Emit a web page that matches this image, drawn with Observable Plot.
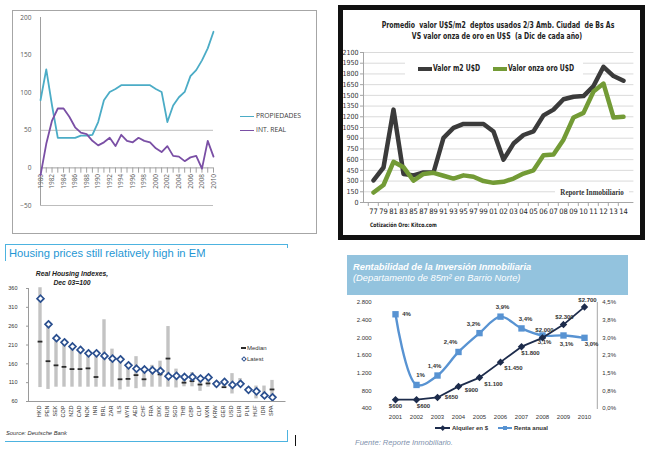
<!DOCTYPE html>
<html><head><meta charset="utf-8">
<script src="https://cdn.jsdelivr.net/npm/d3@7"></script>
<script src="https://cdn.jsdelivr.net/npm/@observablehq/plot@0.6"></script>
<style>
html,body{margin:0;padding:0;background:#fff;overflow:hidden;}
#root{position:relative;width:651px;height:454px;overflow:hidden;font-family:"Liberation Sans",Arial,sans-serif;}
.abs{position:absolute;}
svg.abs{display:block;overflow:visible;}
</style></head><body><div id="root"></div>
<script>
// ---------- Chart 1: PROPIEDADES vs INT. REAL ----------
const years1 = [1980,1981,1982,1983,1984,1985,1986,1987,1988,1989,1990,1991,1992,1993,1994,1995,1996,1997,1998,1999,2000,2001,2002,2003,2004,2005,2006,2007,2008,2009,2010];
const prop1 = [90,131,83,40,40,40,40,43,43,44,61,90,101,105,110,110,110,110,110,110,105,101,61,83,94,101,122,130,143,159,181];
const real1 = [-10,32,63,79,79,68,54,47,45,36,30,34,40,29,44,36,34,40,36,34,26,21,29,16,15,9,14,16,-1,36,15];
const yearLabels1 = [1980,1982,1984,1986,1988,1990,1992,1994,1996,1998,2000,2002,2004,2006,2008,2010];
const yTicks1 = [-50,0,50,100,150,200];
const series1 = ["PROPIEDADES","INT. REAL"];

// ---------- Chart 2: valor m2 vs onza oro ----------
const labels2 = ["77","79","81","83","85","87","89","91","93","95","97","99","01","02","03","04","05","06","07","08","09","10","11","12","13","14"];
const m2 = [310,490,1300,400,380,420,420,905,1045,1100,1100,1100,995,600,825,945,995,1220,1300,1445,1480,1490,1630,1900,1770,1705];
const oro = [140,245,570,495,305,400,415,375,335,380,360,300,275,290,335,405,450,660,672,880,1190,1255,1555,1665,1190,1200];
const yTicks2 = [0,150,300,450,600,750,900,1050,1200,1350,1500,1650,1800,1950,2100];
const series2 = ["Valor m2 U$D","Valor onza oro U$D"];

// ---------- Chart 3: Real Housing Indexes ----------
const cats3 = ["HKD","PEN","SEK","COP","NZD","CAD","NOK","INR","BRL","ZAR","ILS","MYR","AED","CHF","FRA","DKK","RUB","SGD","THB","GBP","CLP","MXN","KRW","GER","USD","EUR","PLN","HUF","IDR","SPA"];
const min3 = [97,92,98,98,98,98,98,98,98,98,91,98,94,98,98,98,98,96,99,99,87,98,97,98,80,99,85,67,70,67];
const max3 = [362,262,228,217,206,197,188,188,277,199,172,156,179,145,156,167,259,146,125,137,121,124,110,112,134,121,97,101,101,116];
const median3 = [219,167,156,152,146,146,148,125,183,170,119,120,130,119,142,132,174,128,110,114,105,108,107,98,104,107,91,87,76,92];
const latest3 = [333,265,228,217,206,197,188,188,181,174,172,156,147,145,143,141,127,128,125,125,121,124,107,112,104,107,91,87,76,71];
const yTicks3 = [60,110,160,210,260,310,360];

// ---------- Chart 4: Rentabilidad ----------
const years4 = ["2001","2002","2003","2004","2005","2006","2007","2008","2009","2010"];
const alquiler4 = [600,600,650,900,1100,1450,1800,2000,2300,2700];
const renta4 = [4.0,1.0,1.4,2.4,3.2,3.9,3.4,3.1,3.1,3.0];
const rentaLabels4 = ["4%","1%","1,4%","2,4%","3,2%","3,9%","3,4%","3,1%","3,1%","3,0%"];
const leftTicks4 = [400,800,1200,1600,2000,2400,2800];
const rightTicks4 = [0,0.75,1.5,2.25,3,3.75,4.5];
const rightTickLabels4 = ["0,0%","0,8%","1,5%","2,3%","3,0%","3,8%","4,5%"];

// label offsets (layout only, pixels)
const alqOffsets = [[0,6],[7,6],[14,0],[13,4],[14,6],[13,6],[9,6],[2,-8],[1,-8],[3,-7]];
const rentaOffsets = [[11,0],[4,-10],[-3,-9],[-8,-10],[-6,-9],[2,-10],[4,-9],[2,7],[3,9],[7,6]];

// ---------- helpers ----------
const root = document.getElementById("root");
function txt(s, x, y, css = {}, anchor = "start", sx = 1) {
  const d = document.createElement("div");
  d.className = "abs";
  d.textContent = s;
  d.style.left = x + "px"; d.style.top = y + "px";
  d.style.whiteSpace = "nowrap"; d.style.lineHeight = "1";
  const tx = anchor === "middle" ? "-50%" : anchor === "end" ? "-100%" : "0";
  d.style.transformOrigin = anchor === "middle" ? "50% 50%" : anchor === "end" ? "100% 50%" : "0 50%";
  Object.assign(d.style, css);
  d.style.transform = `translate(${tx},-50%) scaleX(${sx})`;
  root.appendChild(d);
  return d;
}
function box(x, y, w, h, css = {}) {
  const d = document.createElement("div");
  d.className = "abs";
  Object.assign(d.style, {left: x + "px", top: y + "px", width: w + "px", height: h + "px", boxSizing: "border-box"}, css);
  root.appendChild(d);
  return d;
}
function place(svg, x, y) {
  svg.classList.add("abs");
  svg.style.left = x + "px"; svg.style.top = y + "px";
  root.appendChild(svg);
}
const cond = '"DejaVu Sans Condensed","DejaVu Sans",sans-serif';

// ================= Chart 1 =================
box(12, 10, 305, 224, {border: "1px solid #a6a6a6"});
const rows1 = years1.map((y, i) => ({year: y, prop: prop1[i], real: real1[i]}));
const C1 = ["#4bacc6", "#7a4fa5"];
place(Plot.plot({
  width: 302, height: 222, marginLeft: 27, marginRight: 102, marginTop: 6, marginBottom: 28,
  style: {background: "transparent", fontFamily: '"Open Sans",sans-serif', fontSize: "6.5px", color: "#595959"},
  x: {domain: [1980, 2010], axis: null},
  y: {domain: [-50, 200], axis: null},
  marks: [
    Plot.ruleY([50, -50], {stroke: "#bdbdbd"}),
    Plot.ruleX([1980], {stroke: "#a0a0a0"}),
    Plot.ruleY([0], {stroke: "#a0a0a0"}),
    Plot.ruleX(years1, {x: d => d, y1: 0, y2: -7, stroke: "#a0a0a0"}),
    Plot.axisY({ticks: yTicks1, tickSize: 0, tickPadding: 9, fill: "#595959", label: null}),
    Plot.text(yearLabels1, {x: d => d, y: 0, text: d => String(d), rotate: -90, textAnchor: "end", dy: 6, fill: "#595959"}),
    Plot.line(rows1, {x: "year", y: "prop", stroke: C1[0], strokeWidth: 1.8}),
    Plot.line(rows1, {x: "year", y: "real", stroke: C1[1], strokeWidth: 1.8})
  ]
}), 13, 11);
box(240, 115.5, 14, 1.8, {background: C1[0]});
txt(series1[0], 256, 116, {fontSize: "6.8px", color: "#404040", fontFamily: '"Open Sans",sans-serif'});
box(240, 129.5, 14, 1.8, {background: C1[1]});
txt(series1[1], 256, 130, {fontSize: "6.8px", color: "#404040", fontFamily: '"Open Sans",sans-serif'});

// ================= Chart 2 =================
box(338, 5, 307, 235, {border: "5px solid #111", background: "#fff"});
const rows2 = labels2.map((l, i) => ({k: l, m2: m2[i], oro: oro[i]}));
const C2 = ["#3b3b3b", "#739b36"];
place(Plot.plot({
  width: 297, height: 225, marginLeft: 20, marginRight: 6.6, marginTop: 42, marginBottom: 33,
  style: {background: "transparent", fontFamily: cond, fontStretch: "condensed", fontSize: "7px", color: "#333"},
  x: {type: "point", domain: labels2, padding: 0.5, axis: null},
  y: {domain: [0, 2100], axis: null},
  marks: [
    Plot.ruleY(yTicks2.filter(d => d > 0), {stroke: "#dadada"}),
    Plot.ruleY([0], {stroke: "#a6a6a6"}),
    Plot.frame({anchor: "left", stroke: "#a6a6a6"}),
    Plot.ruleX(labels2, {x: d => d, y1: 0, y2: -55, dx: -5.2, stroke: "#a6a6a6"}),
    Plot.axisY({ticks: yTicks2, tickFormat: d => String(d), tickSize: 3, tickPadding: 2, stroke: "#a6a6a6", fill: "#333", fontSize: 7, label: null}),
    Plot.axisX({tickSize: 0, tickPadding: 6, fill: "#222", fontSize: 7.5, label: null}),
    Plot.line(rows2, {x: "k", y: "m2", stroke: C2[0], strokeWidth: 4.5, strokeLinejoin: "round"}),
    Plot.line(rows2, {x: "k", y: "oro", stroke: C2[1], strokeWidth: 4.5, strokeLinejoin: "round"})
  ]
}), 343, 10);
const bc = {fontFamily: cond, fontStretch: "condensed", fontWeight: "bold", color: "#222"};
txt("Promedio  valor U$S/m2  deptos usados 2/3 Amb. Ciudad  de Bs As", 498, 25, {...bc, fontSize: "8.6px", whiteSpace: "pre"}, "middle", 0.8);
txt("VS valor onza de oro en U$S  (a Dic de cada año)", 497, 36, {...bc, fontSize: "8.6px", whiteSpace: "pre"}, "middle", 0.8);
box(405, 62, 178, 14, {background: "#fff"});
box(418, 67, 14, 4, {background: C2[0]});
txt(series2[0], 433, 69, {...bc, fontSize: "8px"}, "start", 0.85);
box(493, 67, 14, 4, {background: C2[1]});
txt(series2[1], 508, 69, {...bc, fontSize: "8px"}, "start", 0.85);
box(555, 185, 74, 13, {background: "#fff"});
txt("Reporte Inmobiliario", 592, 192, {fontFamily: '"Liberation Serif","DejaVu Serif",serif', fontWeight: "bold", fontSize: "8.5px", color: "#333"}, "middle", 0.82);
txt("Cotización Oro: Kitco.com", 370, 225, {...bc, fontSize: "6px"}, "start", 0.85);

// ================= Chart 3 =================
const blue3 = "#4db3e0";
box(5, 243.5, 283, 1, {background: blue3});
box(5, 243.5, 1, 17, {background: blue3});
box(287, 243.5, 1, 4, {background: blue3});
box(5, 441, 283, 1, {background: blue3});
box(287, 430, 1, 12, {background: blue3});
box(295, 435, 1.3, 11, {background: "#111"});
txt("Housing prices still relatively high in EM", 9, 254, {fontSize: "11.2px", color: "#1f97d4"});
txt("Real Housing Indexes,", 72, 274, {fontSize: "6.8px", fontWeight: "bold", fontStyle: "italic", color: "#222"}, "middle");
txt("Dec 03=100", 72, 283, {fontSize: "6.8px", fontWeight: "bold", fontStyle: "italic", color: "#222"}, "middle");
txt("Source: Deutsche Bank", 6, 434, {fontSize: "5.8px", fontStyle: "italic", color: "#333"});
const rows3 = cats3.map((c, i) => ({c, min: min3[i], max: max3[i], median: median3[i], latest: latest3[i]}));
const mk3 = "#2a4f8f";
place(Plot.plot({
  width: 290, height: 140, marginLeft: 28, marginRight: 5.5, marginTop: 8, marginBottom: 19,
  style: {background: "transparent", fontFamily: '"Liberation Sans",sans-serif', fontSize: "5.5px", color: "#333"},
  x: {type: "band", domain: cats3, padding: 0, axis: null},
  y: {domain: [60, 360], axis: null},
  marks: [
    Plot.barY(rows3, {x: "c", y1: "min", y2: "max", fill: "#c3c3c3", insetLeft: 2.3, insetRight: 2.3}),
    Plot.tickY(rows3, {x: "c", y: "median", stroke: "#2b2b2b", strokeWidth: 1.8, insetLeft: 1.6, insetRight: 1.6}),
    Plot.dot(rows3, {x: "c", y: "latest", symbol: "diamond2", r: 3.1, fill: "#fff", stroke: mk3, strokeWidth: 1.7}),
    Plot.frame({anchor: "left", stroke: "#9a9a9a"}),
    Plot.frame({anchor: "bottom", stroke: "#9a9a9a"}),
    Plot.axisY({ticks: yTicks3, tickSize: 2, tickPadding: 9, stroke: "#9a9a9a", fill: "#333", label: null}),
    Plot.text(cats3, {x: d => d, frameAnchor: "bottom", text: d => d, rotate: -90, textAnchor: "end", dy: 4, fill: "#333"})
  ]
}), 0, 280);
box(241, 347.3, 5, 1.5, {background: "#2b2b2b"});
txt("Median", 247, 348, {fontSize: "6px", color: "#333"});
box(241.5, 357, 4, 4, {border: "1.3px solid " + mk3, background: "#fff", transform: "rotate(45deg)"});
txt("Latest", 247, 359, {fontSize: "6px", color: "#333"});

// ================= Chart 4 =================
box(347, 255, 281, 40, {background: "#93c3de"});
txt("Rentabilidad de la Inversión Inmobiliaria", 353, 268, {fontSize: "9.3px", fontWeight: "bold", fontStyle: "italic", color: "#fff"});
txt("(Departamento de 85m² en Barrio Norte)", 353, 279, {fontSize: "9.3px", fontStyle: "italic", color: "#fff"});
const yOf = p => 400 + p / 4.5 * 2400;
const rows4 = years4.map((y, i) => ({year: y, alq: alquiler4[i], renta: yOf(renta4[i])}));
const fmtDot = d => d3.format(",")(d).replace(/,/g, ".");
const rightMap = new Map(rightTicks4.map((t, i) => [yOf(t), rightTickLabels4[i]]));
const C4 = ["#1d2c4c", "#5893d2"];
const lab4 = {fontSize: 6, fill: "#333", fontWeight: "bold"};
place(Plot.plot({
  width: 316, height: 130, marginLeft: 46.2, marginRight: 54.2, marginTop: 7, marginBottom: 17,
  style: {background: "transparent", fontFamily: '"Liberation Sans",sans-serif', fontSize: "6px", color: "#333"},
  x: {type: "point", domain: years4, padding: 0.5, axis: null},
  y: {domain: [400, 2800], axis: null},
  marks: [
    Plot.frame({anchor: "right", stroke: "#a6a6a6"}),
    Plot.axisY({ticks: leftTicks4, tickFormat: fmtDot, tickSize: 0, tickPadding: 10, fill: "#333", label: null}),
    Plot.axisY({anchor: "right", ticks: rightTicks4.map(yOf), tickFormat: d => rightMap.get(d), tickSize: 0, tickPadding: 5, fill: "#333", label: null}),
    Plot.axisX({tickSize: 0, tickPadding: 6, fill: "#333", label: null}),
    Plot.line(rows4, {x: "year", y: "renta", curve: "catmull-rom", stroke: C4[1], strokeWidth: 2.4}),
    Plot.dot(rows4, {x: "year", y: "renta", symbol: "square", r: 3.6, fill: C4[1]}),
    Plot.line(rows4, {x: "year", y: "alq", stroke: C4[0], strokeWidth: 1.8}),
    Plot.dot(rows4, {x: "year", y: "alq", symbol: "diamond2", r: 2.4, fill: C4[0], stroke: C4[0]}),
    ...rows4.map((d, i) => Plot.text([d], {x: "year", y: "alq", text: () => "$" + fmtDot(alquiler4[i]), dx: alqOffsets[i][0], dy: alqOffsets[i][1], ...lab4})),
    ...rows4.map((d, i) => Plot.text([d], {x: "year", y: "renta", text: () => rentaLabels4[i], dx: rentaOffsets[i][0], dy: rentaOffsets[i][1], ...lab4}))
  ]
}), 335, 295);
box(435, 427.3, 15, 1.5, {background: C4[0]});
box(441, 426.3, 3.5, 3.5, {background: C4[0], transform: "rotate(45deg)"});
txt("Alquiler en $", 452, 428, {fontSize: "6px", color: "#333", fontWeight: "bold"});
box(498, 427.3, 14, 1.5, {background: C4[1]});
box(503, 426, 4, 4, {background: C4[1]});
txt("Renta anual", 514, 428, {fontSize: "6px", color: "#333", fontWeight: "bold"});
txt("Fuente: Reporte Inmobiliario.", 355, 443, {fontSize: "7.6px", fontStyle: "italic", color: "#7f92ad"});
</script></body></html>
